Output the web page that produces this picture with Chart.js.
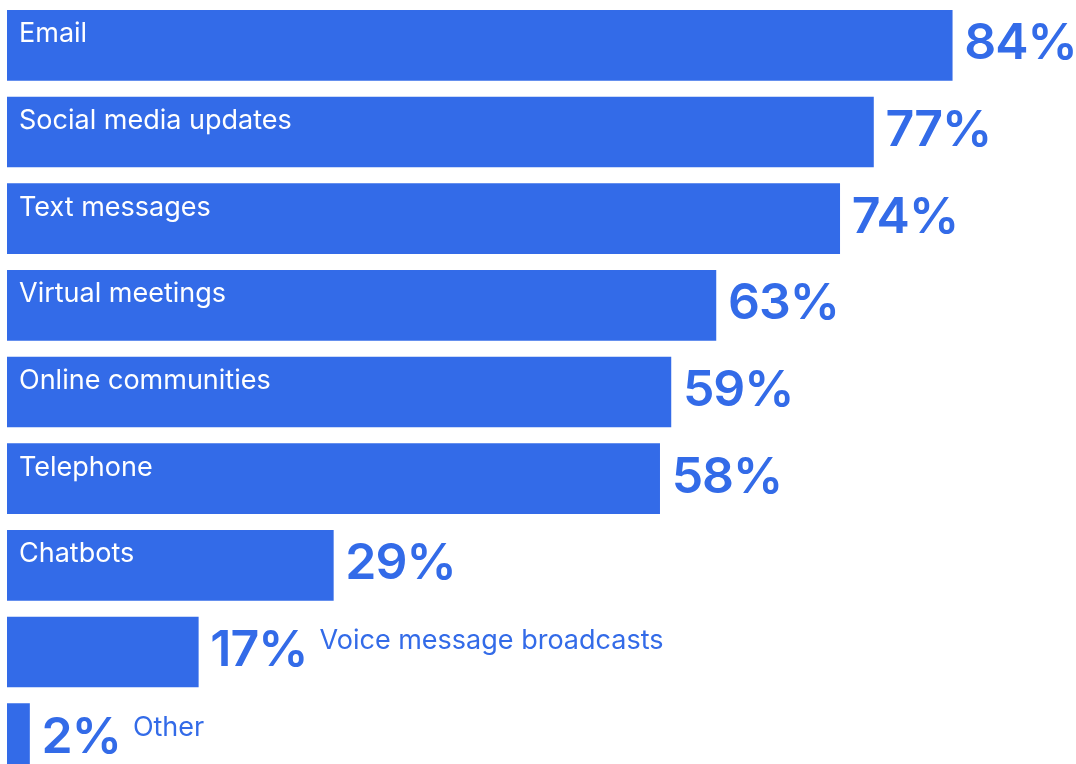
<!DOCTYPE html>
<html>
<head>
<meta charset="utf-8">
<script src="https://cdn.jsdelivr.net/npm/chart.js@4"></script>
<style>
  html, body { margin: 0; padding: 0; background: #fff; overflow: hidden; }
  #wrap { position: absolute; left: 0; top: 2px; width: 1076px; height: 780px; }
</style>
</head>
<body>
<div id="wrap"><canvas id="channelChart"></canvas></div>
<script>
// channels people use, share of respondents (%)
const categories = [
  'Email', 'Social media updates', 'Text messages', 'Virtual meetings',
  'Online communities', 'Telephone', 'Chatbots', 'Voice message broadcasts', 'Other'
];
const shares = [84, 77, 74, 63, 59, 58, 29, 17, 2];

const BLUE = '#336BE8';

// draws the big percentage after each bar and the channel name
// inside the bar (or after the percentage when the bar is too short)
const barLabels = {
  id: 'barLabels',
  afterDatasetsDraw(chart) {
    const ctx = chart.ctx;
    const meta = chart.getDatasetMeta(0);
    ctx.save();
    meta.data.forEach((bar, i) => {
      const top = bar.y - bar.height / 2;
      const left = bar.base;
      const right = bar.x;

      ctx.font = '600 50px Inter';
      ctx.letterSpacing = '-1px';
      ctx.fillStyle = BLUE;
      ctx.textBaseline = 'alphabetic';
      ctx.textAlign = 'left';
      const valText = shares[i] + '%';
      const valX = right + 12;
      ctx.fillText(valText, valX, top + 49);
      const valW = ctx.measureText(valText).width;

      ctx.font = '27px Inter';
      ctx.letterSpacing = '0px';
      const name = categories[i];
      const nameW = ctx.measureText(name).width;
      if (nameW + 26 <= right - left) {
        ctx.fillStyle = '#ffffff';
        ctx.fillText(name, left + 12, top + 32);
      } else {
        ctx.fillStyle = BLUE;
        ctx.fillText(name, valX + valW + 12, top + 32);
      }
    });
    ctx.restore();
  }
};

new Chart(document.getElementById('channelChart'), {
  type: 'bar',
  data: {
    labels: categories,
    datasets: [{
      data: shares,
      backgroundColor: BLUE,
      borderWidth: 0,
      barThickness: 70,
      categoryPercentage: 1,
      barPercentage: 1
    }]
  },
  options: {
    indexAxis: 'y',
    responsive: true,
    maintainAspectRatio: false,
    animation: false,
    layout: { padding: { left: 7, right: 0, top: 0, bottom: 0 } },
    plugins: {
      legend: { display: false },
      tooltip: { enabled: false }
    },
    scales: {
      x: { display: false, min: 0, max: 95 },
      y: { display: false }
    }
  },
  plugins: [barLabels]
});
</script>
</body>
</html>
